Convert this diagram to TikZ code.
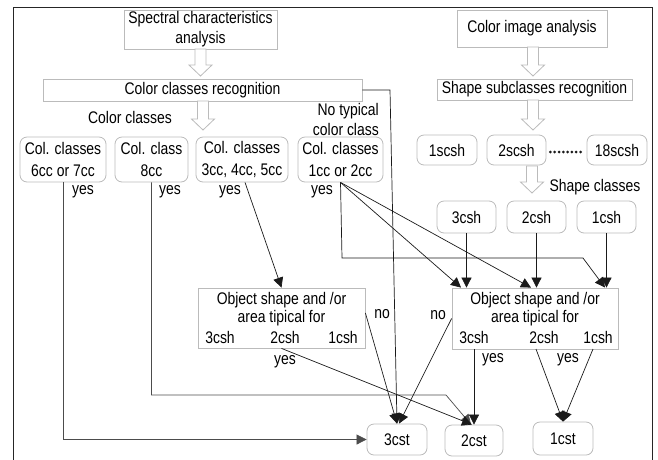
\documentclass[tikz,border=0pt]{standalone}
\usepackage{fontspec}
\setmainfont{Liberation Sans}[FakeStretch=0.83]
\usetikzlibrary{arrows.meta}
\definecolor{boxgray}{HTML}{BBBBBB}
\definecolor{linecol}{HTML}{1A1A1A}
\newcommand\hollowarrow[3]{%
  \draw[harrow] (#1-5.5,#2) -- (#1+5.5,#2) -- (#1+5.5,#3-11) -- (#1+11.5,#3-11)
   -- (#1,#3) -- (#1-11.5,#3-11) -- (#1-5.5,#3-11) -- cycle;}
\tikzset{
  every node/.style={font=\fontsize{16.8}{20}\selectfont, inner sep=0pt},
  sbox/.style={draw=boxgray, line width=0.8pt, fill=white, align=center},
  rbox/.style={sbox, rounded corners=7pt},
  conn/.style={draw=linecol, line width=0.7pt},
  arr/.style={conn, -{Triangle[length=10pt,width=10pt]}},
  harrow/.style={draw=boxgray, fill=white, line width=0.8pt},
  lbl/.style={inner sep=0pt},
  dotline/.style={draw=linecol, line width=3pt, line cap=round, dash pattern=on 0pt off 4.3pt}
}
\begin{document}
\begin{tikzpicture}[x=1pt,y=-1pt]
\useasboundingbox (0,0) rectangle (658,459);
% frame
\draw[line width=0.8pt, black!85] (13,462) -- (13,7) -- (652,7) -- (652,462);

% top left
\node[sbox, minimum width=153, minimum height=39] (spec) at (200.5,29.5) {Spectral characteristics\\analysis};
\node[sbox, minimum width=319, minimum height=22] (ccr) at (202.5,90) {Color classes recognition};
\hollowarrow{200.5}{49}{76}
\hollowarrow{203}{101}{130}
\node[lbl] (lcc) at (130,117) {Color classes};
\node[lbl, align=right, anchor=east] (lnt) at (379,119) {No typical\\color class};

% colour class boxes
\node[rbox, minimum width=86, minimum height=45] (b1) at (63,159.5) {Col. classes\\[2pt]6cc or 7cc};
\node[rbox, minimum width=73, minimum height=45] (b2) at (151.5,159.5) {Col. class\\[2pt]8cc};
\node[rbox, minimum width=92, minimum height=45] (b3) at (242,159.5) {Col. classes\\[2pt]3cc, 4cc, 5cc};
\node[rbox, minimum width=85, minimum height=45] (b4) at (340.5,159.5) {Col. classes\\[2pt]1cc or 2cc};
\node[lbl] (y1) at (83,192) {yes};
\node[lbl] (y2) at (170,192) {yes};
\node[lbl] (y3) at (230,192) {yes};
\node[lbl] (y4) at (322,192) {yes};

% top right
\node[sbox, minimum width=150, minimum height=37] (cia) at (532,28.5) {Color image analysis};
\node[sbox, minimum width=195, minimum height=21] (ssr) at (534.5,89.5) {Shape subclasses recognition};
\hollowarrow{533}{47}{76}
\hollowarrow{533}{100}{130}
\node[rbox, minimum width=60, minimum height=30] (s1) at (447,150) {1scsh};
\node[rbox, minimum width=59, minimum height=30] (s2) at (516.5,150) {2scsh};
\node[rbox, minimum width=60, minimum height=30] (s18) at (617,150) {18scsh};
\draw[dotline] ([xshift=4pt,yshift=-2pt]s2.east) -- ([xshift=-3pt,yshift=-2pt]s18.west);
\hollowarrow{532}{166}{193}
\node[lbl] (lsc) at (595,187) {Shape classes};
\node[rbox, minimum width=59, minimum height=32] (c3) at (466.5,217) {3csh};
\node[rbox, minimum width=59, minimum height=32] (c2) at (536.5,217) {2csh};
\node[rbox, minimum width=59, minimum height=32] (c1) at (606.5,217) {1csh};

% object boxes
\node[sbox, minimum width=167, minimum height=60] (oL) at (281.5,318) {};
\node[lbl] (oL1) at (281.5,300) {Object shape and /or};
\node[lbl] (oL2) at (281.5,318.5) {area tipical for};
\node[lbl] (oL3) at (220,337) {3csh};
\node[lbl] (oL4) at (285,337) {2csh};
\node[lbl] (oL5) at (343,337) {1csh};
\node[sbox, minimum width=166, minimum height=61] (oR) at (535,318.5) {};
\node[lbl] (oR1) at (535,300) {Object shape and /or};
\node[lbl] (oR2) at (535,318.5) {area tipical for};
\node[lbl] (oR3) at (474,337) {3csh};
\node[lbl] (oR4) at (544,337) {2csh};
\node[lbl] (oR5) at (598,337) {1csh};

% result boxes
\node[rbox, minimum width=60, minimum height=31] (t3) at (397,439.5) {3cst};
\node[rbox, minimum width=58, minimum height=31] (t2) at (474,440.5) {2cst};
\node[rbox, minimum width=60, minimum height=33] (t1) at (563,438.5) {1cst};

% labels on connectors
\node[lbl] (yL) at (285,362) {yes};
\node[lbl] (nL) at (382,314) {no};
\node[lbl] (nR) at (438,315) {no};
\node[lbl] (yR1) at (493,360) {yes};
\node[lbl] (yR2) at (568,360) {yes};

% coordinates
\coordinate (k1) at (390,90);
\coordinate (e1) at (342,258);
\coordinate (e2) at (583,258);
\coordinate (e3) at (446,395);
\coordinate (r3s) at (474,349);
\coordinate (r2s) at (536,349);
\coordinate (r1s) at (593,349);

% connectors
\draw[arr, draw=black!70] (b1.south) |- (t3.west);
\draw[arr, draw=black!70] (b2.south) |- (e3) -- ([xshift=-3pt]t2.north);
\draw[arr] ([xshift=3pt]b3.south) -- (oL.north);
\draw[arr] (b4.south) -- (e1) -- (e2) -- ([xshift=70pt]oR.north);
\draw[arr] (b4.south) -- ([xshift=-74pt]oR.north);
\draw[arr] (b4.south) -- ([xshift=-4pt]oR.north);
\draw[arr] (ccr.east) -- (k1) -- (t3.north);
\draw[arr] ([yshift=5pt]oL.east) -- (t3.north);
\draw[arr] (oR.west) -- ([xshift=2pt]t3.north);
\draw[arr] (oL.south) -- ([xshift=-2pt]t2.north);
\draw[arr] (c3.south) -- (c3.south |- oR.north);
\draw[arr] (c2.south) -- (c2.south |- oR.north);
\draw[arr] (c1.south) -- (c1.south |- oR.north);
\draw[arr] (r3s) -- (r3s |- t2.north);
\draw[arr] (r2s) -- (t1.north);
\draw[arr] (r1s) -- (t1.north);
\end{tikzpicture}
\end{document}
